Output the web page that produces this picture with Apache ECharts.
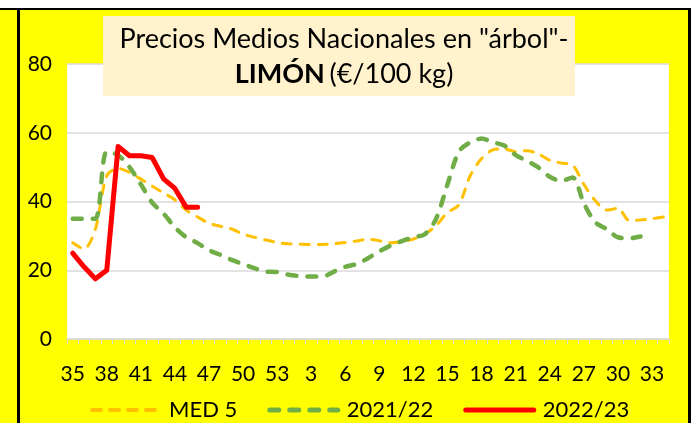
<!DOCTYPE html>
<html>
<head>
<meta charset="utf-8">
<script src="https://cdn.jsdelivr.net/npm/echarts@6/dist/echarts.min.js"></script>
<style>
  html, body { margin: 0; padding: 0; background: #fff; }
  #main { width: 693px; height: 423px; }
</style>
</head>
<body>
<div id="main"></div>
<script>
// semanas de campaña: 35..53 y 1..34
var semanas = ['35','36','37','38','39','40','41','42','43','44','45','46','47','48','49','50','51','52','53',
  '1','2','3','4','5','6','7','8','9','10','11','12','13','14','15','16','17','18','19','20',
  '21','22','23','24','25','26','27','28','29','30','31','32','33','34'];

var med5 = [28, 26.2, 32, 47.5, 49.6, 48.5, 46.5, 44.5, 42.5, 40.5, 37.5, 35.5, 33.7, 32.8, 32, 30.5, 29.6, 28.8, 28.1,
  27.7, 27.6, 27.5, 27.5, 27.7, 28.1, 28.5, 29, 28.6, 28, 28.4, 29.1, 30.5, 33, 36.8, 39, 47.5, 52.5, 55, 55.3,
  54.5, 54.8, 53.8, 52, 51.2, 50.6, 45, 40.3, 37.5, 38, 34.5, 34.6, 35, 35.5];

var c2122 = [35, 35, 35, 54.5, 53.5, 50, 45, 39.7, 36.5, 32.5, 29.6, 27.9, 25.8, 24.5, 23, 21.8, 20.6, 19.6, 19.5,
  18.7, 18.3, 18.2, 18.2, 19.6, 21, 21.8, 23.5, 25.5, 27.2, 28.5, 29.6, 30.5, 35, 45, 54.5, 57.2, 58.3, 57.2, 56.3,
  53.5, 51.8, 49.9, 47.2, 46, 47, 39.5, 34, 32, 29.6, 29.3, 29.8, null, null];

var c2223 = [25, 21, 17.5, 20, 56, 53.3, 53.3, 52.8, 46.6, 43.8, 38.3, 38.3];

var yTicks = { min: 0, max: 80, interval: 20 };

var myChart = echarts.init(document.getElementById('main'));
var fuente = 'Lato';

var option = {
    backgroundColor: '#fff',
    animation: false,
    textStyle: { fontFamily: fuente },
    // marco amarillo con bordes negros
    graphic: [
        { type: 'rect', z: -10, shape: { x: 0, y: 9, width: 691, height: 414 }, style: { fill: '#FFFF00' } },
        { type: 'rect', z: -9, shape: { x: 0, y: 8, width: 691, height: 2 }, style: { fill: '#000' } },
        { type: 'rect', z: -9, shape: { x: 17, y: 8, width: 3, height: 415 }, style: { fill: '#000' } },
        { type: 'rect', z: -9, shape: { x: 688, y: 8, width: 3, height: 415 }, style: { fill: '#000' } },
        { type: 'rect', z: 5, shape: { x: 103, y: 16, width: 472, height: 80 }, style: { fill: '#FFF2CC' } }
    ],
    title: {
        left: 339,
        top: 17,
        textAlign: 'center',
        z: 10,
        text: '{a|Precios Medios Nacionales en "árbol"-}\n{b|LIMÓN} {a|(€/100 kg)}',
        textStyle: {
            fontWeight: 'normal',
            rich: {
                a: { fontFamily: fuente, fontSize: 27, fontWeight: 'normal', color: '#000', lineHeight: 35 },
                b: { fontFamily: fuente, fontSize: 27, fontWeight: 'bold', color: '#000', lineHeight: 35 }
            }
        }
    },
    legend: {
        left: 85,
        top: 394,
        itemWidth: 68,
        itemHeight: 14,
        itemGap: 30,
        itemStyle: { opacity: 0 },
        textStyle: { fontFamily: fuente, fontSize: 22, color: '#000', padding: [0, 0, 0, 4] },
        data: [
            { name: 'MED 5', lineStyle: { width: 4 } },
            { name: '2021/22', lineStyle: { width: 5 } },
            { name: '2022/23', lineStyle: { width: 5 } }
        ]
    },
    grid: { left: 67, right: 24, top: 64, bottom: 84, show: true, backgroundColor: '#fff', borderWidth: 0 },
    xAxis: {
        type: 'category',
        data: semanas,
        boundaryGap: true,
        axisLine: { lineStyle: { color: '#D9D9D9', width: 1.5 } },
        axisTick: { show: true, interval: 0, length: 5, lineStyle: { color: '#D9D9D9' } },
        axisLabel: { interval: 2, margin: 25, fontSize: 21, color: '#000', fontFamily: fuente }
    },
    yAxis: {
        type: 'value',
        min: yTicks.min,
        max: yTicks.max,
        interval: yTicks.interval,
        axisLine: { show: false },
        axisTick: { show: false },
        splitLine: { lineStyle: { color: '#D9D9D9', width: 1.5 } },
        axisLabel: { margin: 15, fontSize: 21, color: '#000', fontFamily: fuente }
    },
    series: [
        {
            name: 'MED 5', type: 'line', data: med5, symbol: 'none', smooth: 0.3,
            itemStyle: { color: '#FFC000' },
            lineStyle: { color: '#FFC000', width: 3, type: [9, 9], cap: 'round' }
        },
        {
            name: '2021/22', type: 'line', data: c2122, symbol: 'none', smooth: 0.3,
            itemStyle: { color: '#70AD47' },
            lineStyle: { color: '#70AD47', width: 4.5, type: [9, 11], cap: 'round' }
        },
        {
            name: '2022/23', type: 'line', data: c2223, symbol: 'none', z: 5,
            itemStyle: { color: '#FF0000' },
            lineStyle: { color: '#FF0000', width: 5, join: 'round', cap: 'round' }
        }
    ]
};

myChart.setOption(option);
</script>
</body>
</html>
